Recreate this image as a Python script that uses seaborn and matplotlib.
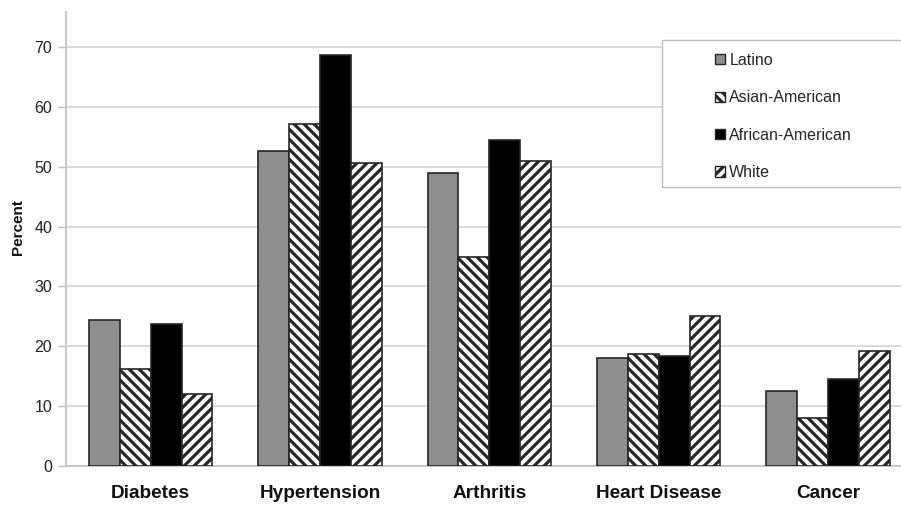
import matplotlib
matplotlib.use("Agg")
import matplotlib.pyplot as plt
from matplotlib.patches import Patch, Rectangle
import seaborn as sns
import pandas as pd

# Prevalence of chronic conditions by group (percent)
conditions = ["Diabetes", "Hypertension", "Arthritis", "Heart Disease", "Cancer"]
groups = ["Latino", "Asian-American", "African-American", "White"]
latino = [24.4, 52.6, 48.9, 18.1, 12.5]
asian_american = [16.2, 57.2, 34.9, 18.7, 8.0]
african_american = [23.7, 68.6, 54.4, 18.4, 14.5]
white = [12.0, 50.7, 51.0, 25.0, 19.2]
y_ticks = [0, 10, 20, 30, 40, 50, 60, 70]

series = {
    "Latino": latino,
    "Asian-American": asian_american,
    "African-American": african_american,
    "White": white,
}
df = pd.DataFrame(
    [(c, g, v) for g in groups for c, v in zip(conditions, series[g])],
    columns=["condition", "group", "percent"],
)

# Rendered at 120 dpi so the hatch stripes come out ~10 px apart;
# every point size is scaled by k to keep pixel sizes unchanged.
DPI = 120
k = 100 / DPI
W, H = 901, 506

sns.set_theme(style="white")
plt.rcParams["font.family"] = ["Liberation Sans", "DejaVu Sans"]
plt.rcParams["hatch.linewidth"] = 2.3 * k
plt.rcParams["hatch.color"] = "black"

fills = {"Latino": "#8e8e8e", "Asian-American": "white",
         "African-American": "black", "White": "white"}
hatches = {"Latino": "", "Asian-American": "\\\\\\\\", "African-American": "", "White": "////"}
edge = "#262626"

fig = plt.figure(figsize=(W / DPI, H / DPI), dpi=DPI)
ax = fig.add_axes([66 / W, 1 - 466 / H, 846.7 / W, 453.7 / H])

sns.barplot(data=df, x="condition", y="percent", hue="group", order=conditions,
            hue_order=groups, palette=fills, width=0.73, saturation=1,
            edgecolor=edge, linewidth=1.2 * k, legend=False, ax=ax, zorder=3)

for g, cont in zip(groups, ax.containers):
    for bar in cont:
        bar.set_hatch(hatches[g])
        bar.set_edgecolor(edge)

ax.set_xlim(-0.5, 4.5)
ax.set_ylim(0, 75.8)
ax.set_yticks(y_ticks)
ax.set_yticklabels([str(t) for t in y_ticks], fontsize=11.5 * k, color="#222222")
ax.yaxis.grid(True, color="#d3d3d3", linewidth=1.2 * k, zorder=0)
ax.set_axisbelow(True)

ax.set_xticks(range(len(conditions)))
ax.set_xticklabels(conditions, fontsize=13.7 * k, fontweight="bold", color="#111111")
ax.tick_params(axis="x", which="major", length=0, pad=14 * k)
ax.set_xticks([0.5, 1.5, 2.5, 3.5], minor=True)
ax.tick_params(axis="x", which="minor", length=5 * k, width=1 * k,
               color="#b0b0b0", direction="out")
ax.tick_params(axis="y", length=6 * k, width=1 * k, color="#c0c0c0",
               direction="out", left=True, pad=4 * k)

ax.set_xlabel("")
ax.set_ylabel("")
fig.text(18 / W, 1 - 227 / H, "Percent", rotation=90, ha="center", va="center",
         fontsize=11 * k, fontweight="bold", color="#111111")

for s in ["top", "right"]:
    ax.spines[s].set_visible(False)
for s in ["left", "bottom"]:
    ax.spines[s].set_color("#c4c4c4")
    ax.spines[s].set_linewidth(1.3 * k)

# Legend box
fig.patches.append(Rectangle((662 / W, 1 - 187 / H), 250 / W, 147 / H,
                             transform=fig.transFigure, facecolor="white",
                             edgecolor="#bcbcbc", linewidth=1.0 * k, zorder=5))
handles = [Patch(facecolor=fills[g], edgecolor=edge, hatch=hatches[g], linewidth=1.0 * k)
           for g in groups]
leg = fig.legend(handles, groups, loc="upper left",
                 bbox_to_anchor=(707 / W, 1 - 45 / H), frameon=False,
                 fontsize=11.5 * k, handlelength=0.6, handleheight=0.6,
                 handletextpad=0.3, labelspacing=1.4, borderpad=0)
leg.set_zorder(6)

fig.savefig("out.png", dpi=DPI)
